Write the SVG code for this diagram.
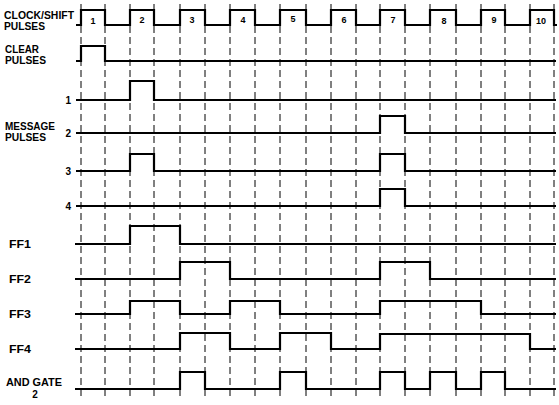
<svg xmlns="http://www.w3.org/2000/svg" width="559" height="405" viewBox="0 0 559 405">
<style>
.sig{fill:none;stroke:#000;stroke-width:2.2;stroke-linejoin:miter;stroke-linecap:butt}
.grid line{stroke:#000;stroke-width:1;stroke-dasharray:7 4}
.lbl{font-family:"Liberation Sans",Arial,sans-serif;font-weight:bold;font-size:10px;fill:#000}
.num{font-family:"Liberation Sans",Arial,sans-serif;font-weight:bold;font-size:9px;fill:#000;text-anchor:middle}
.r{text-anchor:end}
</style>
<rect width="559" height="405" fill="#fff"/>
<g id="gridlines" class="grid">
<line x1="81" y1="4" x2="81" y2="400"/>
<line x1="105" y1="4" x2="105" y2="400"/>
<line x1="130" y1="4" x2="130" y2="400"/>
<line x1="154" y1="4" x2="154" y2="400"/>
<line x1="180" y1="4" x2="180" y2="400"/>
<line x1="205" y1="4" x2="205" y2="400"/>
<line x1="230" y1="4" x2="230" y2="400"/>
<line x1="255" y1="4" x2="255" y2="400"/>
<line x1="280" y1="4" x2="280" y2="400"/>
<line x1="306" y1="4" x2="306" y2="400"/>
<line x1="331" y1="4" x2="331" y2="400"/>
<line x1="356" y1="4" x2="356" y2="400"/>
<line x1="380" y1="4" x2="380" y2="400"/>
<line x1="405" y1="4" x2="405" y2="400"/>
<line x1="430" y1="4" x2="430" y2="400"/>
<line x1="456" y1="4" x2="456" y2="400"/>
<line x1="481" y1="4" x2="481" y2="400"/>
<line x1="505" y1="4" x2="505" y2="400"/>
<line x1="530" y1="4" x2="530" y2="400"/>
<line x1="554" y1="4" x2="554" y2="400"/>
</g>
<g id="clock">
<text class="lbl" x="4" y="19" textLength="70" lengthAdjust="spacingAndGlyphs">CLOCK/SHIFT</text>
<text class="lbl" x="4" y="30" textLength="41" lengthAdjust="spacingAndGlyphs">PULSES</text>
<path class="sig" d="M76,25 H81 V10 H105 V25 H130 V10 H154 V25 H180 V10 H205 V25 H230 V10 H255 V25 H280 V10 H306 V25 H331 V10 H356 V25 H380 V10 H405 V25 H430 V10 H456 V25 H481 V10 H505 V25 H530 V10 H554 V25 H557"/>
<text class="num" x="93" y="24">1</text>
<text class="num" x="142" y="23">2</text>
<text class="num" x="192" y="23">3</text>
<text class="num" x="243" y="23">4</text>
<text class="num" x="293" y="22">5</text>
<text class="num" x="344" y="23">6</text>
<text class="num" x="393" y="23">7</text>
<text class="num" x="444" y="24">8</text>
<text class="num" x="494" y="23">9</text>
<text class="num" x="541" y="24">10</text>
</g>
<g id="clear">
<text class="lbl" x="5" y="53" textLength="34" lengthAdjust="spacingAndGlyphs">CLEAR</text>
<text class="lbl" x="5" y="64" textLength="41" lengthAdjust="spacingAndGlyphs">PULSES</text>
<path class="sig" d="M76,61 H81 V46 H105 V61 H556"/>
</g>
<g id="message">
<text class="lbl" x="5" y="130" textLength="50" lengthAdjust="spacingAndGlyphs">MESSAGE</text>
<text class="lbl" x="5" y="141" textLength="41" lengthAdjust="spacingAndGlyphs">PULSES</text>
</g>
<g id="msg1">
<text class="lbl r" x="71" y="104">1</text>
<path class="sig" d="M76,100 H130 V81 H154 V100 H556"/>
</g>
<g id="msg2">
<text class="lbl r" x="71" y="137">2</text>
<path class="sig" d="M76,133 H380 V116 H405 V133 H556"/>
</g>
<g id="msg3">
<text class="lbl r" x="71" y="175">3</text>
<path class="sig" d="M76,171 H130 V154 H154 V171 H380 V154 H405 V171 H556"/>
</g>
<g id="msg4">
<text class="lbl r" x="71" y="210">4</text>
<path class="sig" d="M76,206 H380 V189 H405 V206 H556"/>
</g>
<g id="ff1">
<text class="lbl" x="9" y="248" textLength="22" lengthAdjust="spacingAndGlyphs">FF1</text>
<path class="sig" d="M75,244 H130 V226 H180 V244 H556"/>
</g>
<g id="ff2">
<text class="lbl" x="9" y="283" textLength="22" lengthAdjust="spacingAndGlyphs">FF2</text>
<path class="sig" d="M75,279 H180 V262 H230 V279 H380 V262 H430 V279 H556"/>
</g>
<g id="ff3">
<text class="lbl" x="9" y="318" textLength="22" lengthAdjust="spacingAndGlyphs">FF3</text>
<path class="sig" d="M75,314 H130 V301 H180 V314 H230 V301 H280 V314 H380 V301 H481 V314 H556"/>
</g>
<g id="ff4">
<text class="lbl" x="9" y="353" textLength="22" lengthAdjust="spacingAndGlyphs">FF4</text>
<path class="sig" d="M75,349 H180 V333 H230 V349 H280 V333 H331 V349 H380 V334 H530 V349 H556"/>
</g>
<g id="andgate2">
<text class="lbl" x="6" y="386" textLength="56" lengthAdjust="spacingAndGlyphs">AND GATE</text>
<text class="lbl" x="35" y="398" text-anchor="middle">2</text>
<path class="sig" d="M75,389 H180 V372 H205 V389 H280 V372 H306 V389 H380 V372 H405 V389 H430 V372 H456 V389 H481 V372 H505 V389 H556"/>
</g>
</svg>
